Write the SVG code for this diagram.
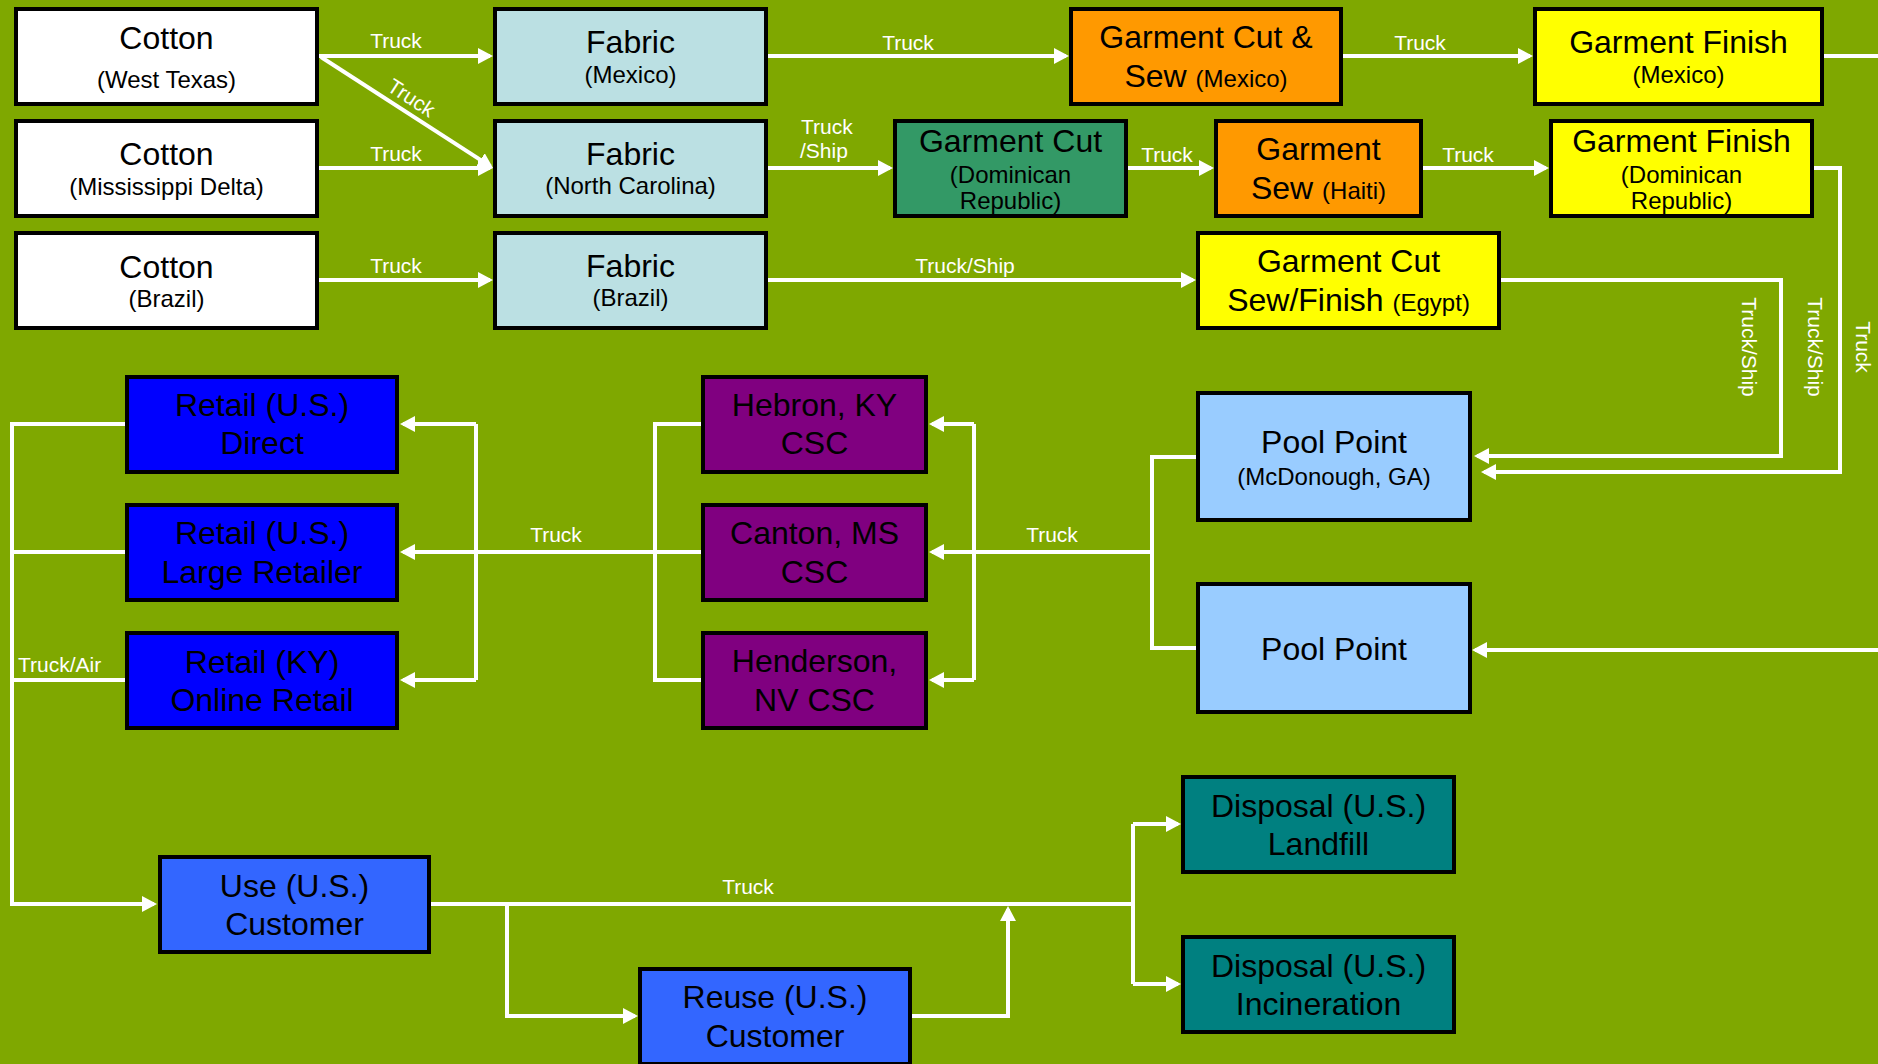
<svg xmlns="http://www.w3.org/2000/svg" width="1878" height="1064" viewBox="0 0 1878 1064">
<style>
text{font-family:"Liberation Sans",Arial,sans-serif;}
.box{stroke:#000;stroke-width:4;}
.t{font-size:32px;fill:#000;text-anchor:middle;}
.s{font-size:24px;}
.lbl{font-size:21px;fill:#fff;text-anchor:middle;}
.ln{fill:none;stroke:#fff;stroke-width:4;}
.ar{marker-end:url(#ah);}
.cotton{fill:#fff;}
.fabric{fill:#BBE0E3;}
.orange{fill:#FF9900;}
.yellow{fill:#FFFF00;}
.green{fill:#339966;}
.pool{fill:#99CCFF;}
.purple{fill:#800080;}
.blue{fill:#0000FF;}
.cust{fill:#3366FF;}
.teal{fill:#008080;}
</style>
<defs>
<marker id="ah" viewBox="0 0 15 16" refX="12" refY="8" markerWidth="15" markerHeight="16" markerUnits="userSpaceOnUse" orient="auto">
<path d="M0,0 L15,8 L0,16 z" fill="#fff"/>
</marker>
</defs>
<rect x="0" y="0" width="1878" height="1064" fill="#7FA800"/>

<g id="connectors">
<path class="ln ar" d="M319,56 H490"/>
<path class="ln ar" d="M321,57 L490.5,166.4"/>
<path class="ln ar" d="M319,168 H490"/>
<path class="ln ar" d="M319,280 H490"/>
<path class="ln ar" d="M767,56 H1066"/>
<path class="ln ar" d="M1343,56 H1530"/>
<path class="ln" d="M1823,56 H1880"/>
<path class="ln ar" d="M767,168 H890"/>
<path class="ln ar" d="M1128,168 H1211"/>
<path class="ln ar" d="M1423,168 H1546"/>
<path class="ln ar" d="M1813,168 H1840 V472 H1484"/>
<path class="ln ar" d="M767,280 H1193"/>
<path class="ln ar" d="M1501,280 H1781 V456 H1477"/>
<path class="ln ar" d="M1880,650 H1475"/>
<path class="ln" d="M1196,457 H1152 V648 H1196"/>
<path class="ln" d="M1152,552 H974"/>
<path class="ln" d="M974,424 V680"/>
<path class="ln ar" d="M974,424 H932"/>
<path class="ln ar" d="M974,552 H932"/>
<path class="ln ar" d="M974,680 H932"/>
<path class="ln" d="M701,424 H655 V680 H701"/>
<path class="ln" d="M701,552 H476"/>
<path class="ln" d="M476,424 V680"/>
<path class="ln ar" d="M476,424 H403"/>
<path class="ln ar" d="M476,552 H403"/>
<path class="ln ar" d="M476,680 H403"/>
<path class="ln ar" d="M125,424 H12 V904 H154"/>
<path class="ln" d="M125,552 H12"/>
<path class="ln" d="M125,680 H12"/>
<path class="ln" d="M431,904 H1133"/>
<path class="ln" d="M1133,824 V984"/>
<path class="ln ar" d="M1133,824 H1178"/>
<path class="ln ar" d="M1133,984 H1178"/>
<path class="ln ar" d="M507,904 V1016 H635"/>
<path class="ln ar" d="M912,1016 H1008 V909"/>

<text class="lbl" x="396" y="48">Truck</text>
<text class="lbl" transform="translate(411.5,97.5) rotate(33)" x="0" y="7.5">Truck</text>
<text class="lbl" x="396" y="161">Truck</text>
<text class="lbl" x="396" y="273">Truck</text>
<text class="lbl" x="908" y="50">Truck</text>
<text class="lbl" x="1420" y="50">Truck</text>
<text class="lbl" x="801" y="134" style="text-anchor:start">Truck</text>
<text class="lbl" x="800" y="158" style="text-anchor:start">/Ship</text>
<text class="lbl" x="1167" y="162">Truck</text>
<text class="lbl" x="1468" y="162">Truck</text>
<text class="lbl" x="965" y="273">Truck/Ship</text>
<text class="lbl" transform="translate(1749,347) rotate(90)" x="0" y="7.5">Truck/Ship</text>
<text class="lbl" transform="translate(1815,347) rotate(90)" x="0" y="7.5">Truck/Ship</text>
<text class="lbl" transform="translate(1863,347) rotate(90)" x="0" y="7.5">Truck</text>
<text class="lbl" x="1052" y="542">Truck</text>
<text class="lbl" x="556" y="542">Truck</text>
<text class="lbl" x="18" y="672" style="text-anchor:start">Truck/Air</text>
<text class="lbl" x="748" y="894">Truck</text>
</g>

<g id="cotton-west-texas"><rect class="box cotton" x="16" y="9" width="301" height="95"/>
<text class="t" x="166.5" y="49">Cotton</text><text class="t s" x="166.5" y="88">(West Texas)</text></g>
<g id="cotton-mississippi"><rect class="box cotton" x="16" y="121" width="301" height="95"/>
<text class="t" x="166.5" y="165">Cotton</text><text class="t s" x="166.5" y="195">(Mississippi Delta)</text></g>
<g id="cotton-brazil"><rect class="box cotton" x="16" y="233" width="301" height="95"/>
<text class="t" x="166.5" y="278">Cotton</text><text class="t s" x="166.5" y="307">(Brazil)</text></g>

<g id="fabric-mexico"><rect class="box fabric" x="495" y="9" width="271" height="95"/>
<text class="t" x="630.5" y="53">Fabric</text><text class="t s" x="630.5" y="83">(Mexico)</text></g>
<g id="fabric-nc"><rect class="box fabric" x="495" y="121" width="271" height="95"/>
<text class="t" x="630.5" y="165">Fabric</text><text class="t s" x="630.5" y="194">(North Carolina)</text></g>
<g id="fabric-brazil"><rect class="box fabric" x="495" y="233" width="271" height="95"/>
<text class="t" x="630.5" y="277">Fabric</text><text class="t s" x="630.5" y="306">(Brazil)</text></g>

<g id="garment-cut-sew-mexico"><rect class="box orange" x="1071" y="9" width="270" height="95"/>
<text class="t" x="1206" y="48">Garment Cut &amp;</text><text class="t" x="1206" y="87">Sew <tspan class="s">(Mexico)</tspan></text></g>
<g id="garment-finish-mexico"><rect class="box yellow" x="1535" y="9" width="287" height="95"/>
<text class="t" x="1678.5" y="53">Garment Finish</text><text class="t s" x="1678.5" y="83">(Mexico)</text></g>

<g id="garment-cut-dr"><rect class="box green" x="895" y="121" width="231" height="95"/>
<text class="t" x="1010.5" y="152">Garment Cut</text><text class="t s" x="1010.5" y="183">(Dominican</text><text class="t s" x="1010.5" y="209">Republic)</text></g>
<g id="garment-sew-haiti"><rect class="box orange" x="1216" y="121" width="205" height="95"/>
<text class="t" x="1318.5" y="160">Garment</text><text class="t" x="1318.5" y="199">Sew <tspan class="s">(Haiti)</tspan></text></g>
<g id="garment-finish-dr"><rect class="box yellow" x="1551" y="121" width="261" height="95"/>
<text class="t" x="1681.5" y="152">Garment Finish</text><text class="t s" x="1681.5" y="183">(Dominican</text><text class="t s" x="1681.5" y="209">Republic)</text></g>

<g id="garment-egypt"><rect class="box yellow" x="1198" y="233" width="301" height="95"/>
<text class="t" x="1348.5" y="272">Garment Cut</text><text class="t" x="1348.5" y="311">Sew/Finish <tspan class="s">(Egypt)</tspan></text></g>

<g id="pool-point-mcdonough"><rect class="box pool" x="1198" y="393" width="272" height="127"/>
<text class="t" x="1334" y="453">Pool Point</text><text class="t s" x="1334" y="485">(McDonough, GA)</text></g>
<g id="pool-point"><rect class="box pool" x="1198" y="584" width="272" height="128"/>
<text class="t" x="1334" y="660">Pool Point</text></g>

<g id="csc-hebron"><rect class="box purple" x="703" y="377" width="223" height="95"/>
<text class="t" x="814.5" y="416">Hebron, KY</text><text class="t" x="814.5" y="454">CSC</text></g>
<g id="csc-canton"><rect class="box purple" x="703" y="505" width="223" height="95"/>
<text class="t" x="814.5" y="544">Canton, MS</text><text class="t" x="814.5" y="583">CSC</text></g>
<g id="csc-henderson"><rect class="box purple" x="703" y="633" width="223" height="95"/>
<text class="t" x="814.5" y="672">Henderson,</text><text class="t" x="814.5" y="711">NV CSC</text></g>

<g id="retail-direct"><rect class="box blue" x="127" y="377" width="270" height="95"/>
<text class="t" x="262" y="416">Retail (U.S.)</text><text class="t" x="262" y="454">Direct</text></g>
<g id="retail-large"><rect class="box blue" x="127" y="505" width="270" height="95"/>
<text class="t" x="262" y="544">Retail (U.S.)</text><text class="t" x="262" y="583">Large Retailer</text></g>
<g id="retail-online"><rect class="box blue" x="127" y="633" width="270" height="95"/>
<text class="t" x="262" y="673">Retail (KY)</text><text class="t" x="262" y="711">Online Retail</text></g>

<g id="use-customer"><rect class="box cust" x="160" y="857" width="269" height="95"/>
<text class="t" x="294.5" y="897">Use (U.S.)</text><text class="t" x="294.5" y="935">Customer</text></g>
<g id="reuse-customer"><rect class="box cust" x="640" y="969" width="270" height="95"/>
<text class="t" x="775" y="1008">Reuse (U.S.)</text><text class="t" x="775" y="1047">Customer</text></g>

<g id="disposal-landfill"><rect class="box teal" x="1183" y="777" width="271" height="95"/>
<text class="t" x="1318.5" y="817">Disposal (U.S.)</text><text class="t" x="1318.5" y="855">Landfill</text></g>
<g id="disposal-incineration"><rect class="box teal" x="1183" y="937" width="271" height="95"/>
<text class="t" x="1318.5" y="977">Disposal (U.S.)</text><text class="t" x="1318.5" y="1015">Incineration</text></g>
</svg>
